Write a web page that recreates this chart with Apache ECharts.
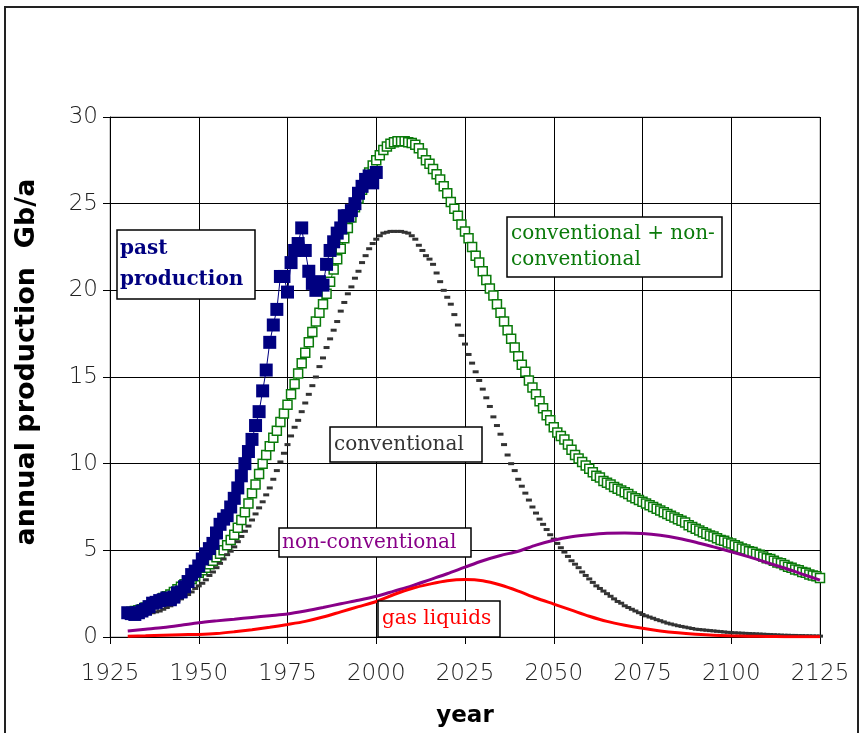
<!DOCTYPE html>
<html>
<head>
<meta charset="utf-8">
<script src="https://cdn.jsdelivr.net/npm/echarts@6/dist/echarts.min.js"></script>
<style>
html,body{margin:0;padding:0;background:#fff;}
#chart{width:862px;height:733px;}
</style>
</head>
<body>
<div id="chart"></div>
<script>
// ---- data ----
const xTicks = [1925, 1950, 1975, 2000, 2025, 2050, 2075, 2100, 2125];
const yTicks = [0, 5, 10, 15, 20, 25, 30];

// past production, yearly from 1930
const pastStart = 1930;
const pastProduction = [
  1.4, 1.35, 1.3, 1.4, 1.5, 1.6, 1.75, 1.95, 2.0, 2.1,
  2.15, 2.25, 2.15, 2.3, 2.55, 2.6, 2.9, 3.2, 3.6, 3.8,
  4.1, 4.5, 4.8, 5.1, 5.4, 6.0, 6.5, 6.8, 7.0, 7.5,
  8.0, 8.6, 9.3, 10.0, 10.7, 11.4, 12.2, 13.0, 14.2, 15.4,
  17.0, 18.0, 18.9, 20.8, 20.8, 19.9, 21.6, 22.3, 22.7, 23.6,
  22.3, 21.1, 20.4, 20.0, 20.5, 20.3, 21.5, 22.3, 22.8, 23.3,
  23.6, 24.3, 24.3, 24.6, 25.0, 25.6, 26.0, 26.4, 26.6, 26.2,
  26.8
];

// conventional + non-conventional, yearly from 1930
const totalStart = 1930;
const totalProduction = [
  1.4, 1.45, 1.5, 1.55, 1.6, 1.7, 1.8, 1.9, 2.0, 2.1,
  2.25, 2.35, 2.45, 2.6, 2.75, 2.9, 3.05, 3.2, 3.35, 3.5,
  3.7, 3.85, 4.0, 4.2, 4.4, 4.6, 4.8, 5.0, 5.3, 5.6,
  5.9, 6.3, 6.75, 7.2, 7.7, 8.3, 8.8, 9.4, 10.0, 10.5,
  11.0, 11.5, 11.9, 12.4, 12.9, 13.4, 14.0, 14.6, 15.2, 15.8,
  16.4, 17.0, 17.6, 18.2, 18.7, 19.2, 19.8, 20.5, 21.2, 21.8,
  22.4, 23.0, 23.6, 24.2, 24.8, 25.3, 25.8, 26.3, 26.8, 27.2,
  27.5, 27.8, 28.1, 28.3, 28.45, 28.55, 28.6, 28.6, 28.6, 28.55,
  28.5, 28.4, 28.2, 27.9, 27.5, 27.3, 27.0, 26.7, 26.4, 26.0,
  25.6, 25.1, 24.7, 24.3, 23.8, 23.4, 23.0, 22.5, 22.0, 21.6,
  21.1, 20.6, 20.1, 19.7, 19.2, 18.7, 18.2, 17.7, 17.2, 16.7,
  16.2, 15.7, 15.3, 14.8, 14.4, 14.0, 13.6, 13.2, 12.8, 12.5,
  12.1, 11.8, 11.6, 11.4, 11.1, 10.8, 10.5, 10.3, 10.1, 9.9,
  9.7, 9.5, 9.3, 9.2, 9.0, 8.9, 8.8, 8.65, 8.55, 8.45,
  8.35, 8.25, 8.1, 8.0, 7.9, 7.8, 7.7, 7.6, 7.5, 7.4,
  7.3, 7.2, 7.1, 7.0, 6.9, 6.8, 6.7, 6.6, 6.45, 6.35,
  6.25, 6.15, 6.05, 5.95, 5.85, 5.8, 5.7, 5.6, 5.55, 5.45,
  5.4, 5.3, 5.2, 5.1, 5.05, 4.95, 4.9, 4.8, 4.75, 4.65,
  4.55, 4.5, 4.4, 4.3, 4.25, 4.15, 4.05, 4.0, 3.9, 3.85,
  3.75, 3.7, 3.6, 3.55, 3.5, 3.4
];

// conventional, yearly from 1930
const convStart = 1930;
const conventional = [
  1.1, 1.1, 1.15, 1.2, 1.25, 1.3, 1.35, 1.4, 1.45, 1.5,
  1.6, 1.7, 1.8, 1.95, 2.1, 2.2, 2.35, 2.45, 2.6, 2.8,
  2.95, 3.1, 3.3, 3.55, 3.75, 4.0, 4.25, 4.5, 4.75, 4.95,
  5.2, 5.5, 5.8, 6.1, 6.4, 6.75, 7.1, 7.45, 7.8, 8.2,
  8.6, 9.1, 9.6, 10.1, 10.6, 11.1, 11.6, 12.1, 12.5, 13.0,
  13.5, 14.0, 14.5, 15.0, 15.6, 16.1, 16.7, 17.2, 17.7, 18.2,
  18.8, 19.3, 19.8, 20.2, 20.7, 21.1, 21.6, 22.0, 22.4, 22.7,
  22.95, 23.15, 23.3, 23.35, 23.4, 23.4, 23.4, 23.4, 23.35, 23.3,
  23.15, 22.95, 22.6, 22.3, 22.0, 21.8, 21.5, 21.0, 20.5, 20.0,
  19.6, 19.2, 18.6, 18.0, 17.4, 16.9, 16.3, 15.8, 15.3, 14.8,
  14.3, 13.8, 13.3, 12.7, 12.2, 11.7, 11.1, 10.5, 10.0, 9.6,
  9.1, 8.7, 8.3, 7.9, 7.5, 7.15, 6.8, 6.5, 6.2, 5.9,
  5.65, 5.4, 5.15, 4.9, 4.65, 4.4, 4.2, 4.0, 3.75, 3.55,
  3.35, 3.15, 2.95, 2.8, 2.65, 2.5, 2.35, 2.2, 2.05, 1.95,
  1.8, 1.7, 1.6, 1.5, 1.4, 1.3, 1.22, 1.15, 1.08, 1.0,
  0.94, 0.87, 0.8, 0.75, 0.7, 0.65, 0.61, 0.57, 0.53, 0.49,
  0.45, 0.43, 0.41, 0.39, 0.37, 0.35, 0.33, 0.31, 0.29, 0.27,
  0.25, 0.24, 0.23, 0.22, 0.21, 0.2, 0.19, 0.18, 0.17, 0.16,
  0.15, 0.14, 0.13, 0.12, 0.11, 0.1, 0.1, 0.09, 0.09, 0.08,
  0.08, 0.07, 0.07, 0.06, 0.06, 0.05
];

// non-conventional and gas liquids, every 5 years
const fiveYears = [1930,1935,1940,1945,1950,1955,1960,1965,1970,1975,1980,1985,1990,1995,2000,2005,2010,2015,2020,2025,2030,2035,2040,2045,2050,2055,2060,2065,2070,2075,2080,2085,2090,2095,2100,2105,2110,2115,2120,2125];
const nonConventional = [0.35,0.45,0.55,0.68,0.82,0.93,1.03,1.13,1.23,1.33,1.5,1.7,1.92,2.12,2.35,2.65,2.95,3.3,3.65,4.03,4.4,4.7,4.95,5.3,5.58,5.78,5.9,5.98,6.0,5.97,5.87,5.7,5.47,5.2,4.92,4.62,4.3,3.98,3.63,3.28];
const gasLiquids = [0.05,0.07,0.1,0.13,0.15,0.2,0.3,0.42,0.56,0.72,0.9,1.15,1.45,1.75,2.05,2.45,2.8,3.05,3.25,3.32,3.25,3.0,2.65,2.25,1.9,1.55,1.2,0.9,0.68,0.5,0.35,0.24,0.16,0.1,0.07,0.05,0.03,0.02,0.01,0.01];

function yearly(start, arr){ return arr.map((v,i)=>[start+i, v]); }
function paired(xs, arr){ return arr.map((v,i)=>[xs[i], v]); }

const chart = echarts.init(document.getElementById('chart'), null, {renderer:'canvas'});
const serifFont = "'DejaVu Serif', serif";
const sansFont = "'DejaVu Sans', sans-serif";

function box(x, y, w, h, lines, color, bold, size, tx){
  const els = [{
    type:'rect', shape:{x:x, y:y, width:w, height:h},
    style:{fill:'#fff', stroke:'#000', lineWidth:1.5}, z:100
  }];
  lines.forEach((t, i)=>{
    els.push({type:'text', x: tx, y: y + h/lines.length*(i+0.5) + (lines.length>1? (i===0? 2 : -2):0),
      style:{text:t, fill:color, font:(bold?'bold ':'')+size+'px '+serifFont, textVerticalAlign:'middle', textAlign:'left'}, z:101});
  });
  return els;
}

const option = {
  animation:false,
  backgroundColor:'#fff',
  grid:{left:110, right:42, top:117, bottom:92, show:true, borderColor:'#999', borderWidth:1, backgroundColor:'transparent'},
  xAxis:{
    type:'value', min:xTicks[0], max:xTicks[xTicks.length-1], interval:25,
    axisLine:{show:true, onZero:false, lineStyle:{color:'#000', width:1}},
    axisTick:{show:true, length:7, lineStyle:{color:'#000'}},
    splitLine:{show:true, lineStyle:{color:'#000', width:1}},
    axisLabel:{fontFamily:sansFont, fontSize:23, fontWeight:200, color:'#222', margin:26, formatter:function(v){return String(v);}},
    name:'year', nameLocation:'middle', nameGap:68,
    nameTextStyle:{fontFamily:sansFont, fontSize:23, fontWeight:'bold', color:'#000'}
  },
  yAxis:{
    type:'value', min:yTicks[0], max:yTicks[yTicks.length-1], interval:5,
    axisLine:{show:true, lineStyle:{color:'#000', width:1}},
    axisTick:{show:true, length:7, lineStyle:{color:'#000'}},
    splitLine:{show:true, lineStyle:{color:'#000', width:1}},
    axisLabel:{fontFamily:sansFont, fontSize:23, fontWeight:200, color:'#222', margin:12},
    name:'annual production  Gb/a', nameLocation:'middle', nameGap:70, nameRotate:90,
    nameTextStyle:{fontFamily:sansFont, fontSize:27, fontWeight:'bold', color:'#000', padding:[0,0,0,30]}
  },
  series:[
    {
      name:'conventional + non-conventional', type:'line', data:yearly(totalStart, totalProduction),
      symbol:'rect', symbolSize:9, showAllSymbol:true,
      itemStyle:{color:'#fff', borderColor:'#0a7a0a', borderWidth:1.5},
      lineStyle:{color:'#0a7a0a', width:1}, z:2
    },
    {
      name:'conventional', type:'line', data:yearly(convStart, conventional),
      symbol:'rect', symbolSize:[6,3], showAllSymbol:true,
      itemStyle:{color:'#333'}, lineStyle:{width:0, opacity:0}, z:3
    },
    {
      name:'non-conventional', type:'line', data:paired(fiveYears, nonConventional),
      smooth:0.3, symbol:'none', lineStyle:{color:'#880088', width:3}, z:4
    },
    {
      name:'gas liquids', type:'line', data:paired(fiveYears, gasLiquids),
      smooth:0.3, symbol:'none', lineStyle:{color:'#ff0000', width:3}, z:5
    },
    {
      name:'past production', type:'line', data:yearly(pastStart, pastProduction),
      symbol:'rect', symbolSize:13, showAllSymbol:true,
      itemStyle:{color:'#000080'}, lineStyle:{color:'#000080', width:1}, z:6
    }
  ],
  graphic:[
    {type:'rect', shape:{x:5, y:7, width:853, height:740}, style:{fill:'none', stroke:'#222', lineWidth:2}, z:0, silent:true}
  ]
    .concat(box(117, 230, 138, 69, ['past','production'], '#000080', true, 20, 120))
    .concat(box(507, 217, 215, 60, ['conventional + non-','conventional'], '#0a7a0a', false, 20, 511))
    .concat(box(330, 427, 152, 35, ['conventional'], '#333', false, 20, 334))
    .concat(box(279, 528, 192, 29, ['non-conventional'], '#880088', false, 20, 282))
    .concat(box(378, 601, 122, 36, ['gas liquids'], '#ff0000', false, 20, 382))
};
chart.setOption(option);
</script>
</body>
</html>
